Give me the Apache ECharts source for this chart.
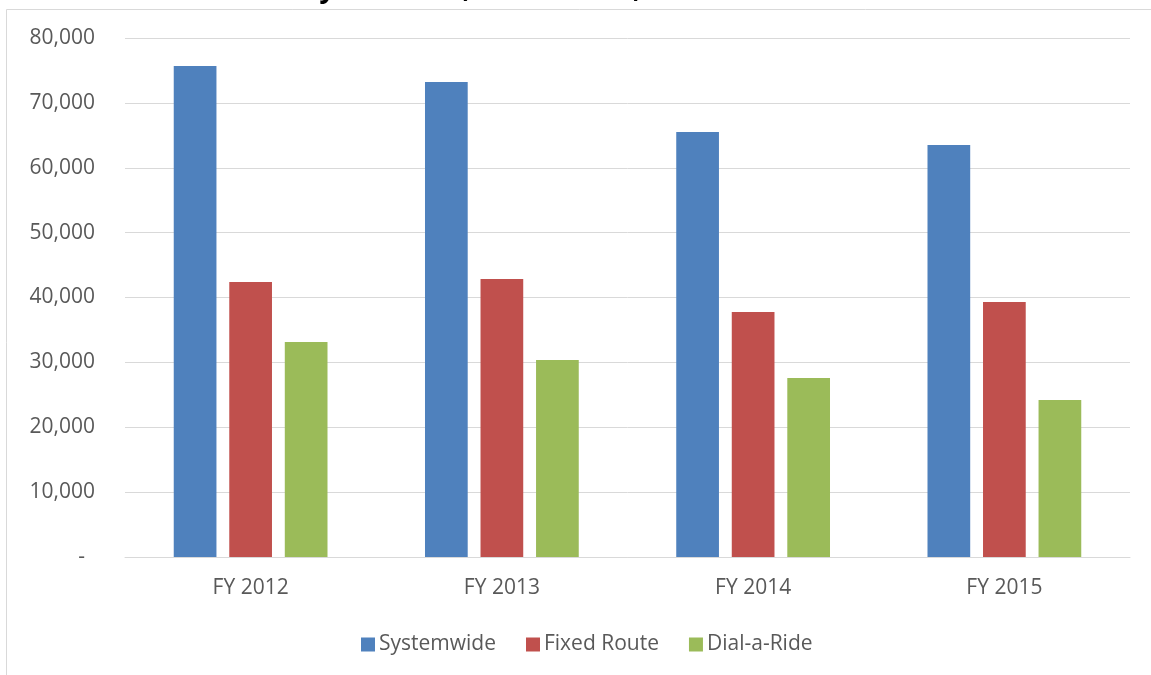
<!DOCTYPE html>
<html>
<head>
<meta charset="utf-8">
<script src="https://cdn.jsdelivr.net/npm/echarts@6/dist/echarts.min.js"></script>
<style>html,body{margin:0;padding:0;background:#fff;}#c{width:1151px;height:675px;}</style>
</head>
<body>
<div id="c"></div>
<script>
const titleText = 'Systemwide, Fixed Route, and Dial-a-Ride';
const categories = ['FY 2012', 'FY 2013', 'FY 2014', 'FY 2015'];
const seriesNames = ['Systemwide', 'Fixed Route', 'Dial-a-Ride'];
const systemwide = [75700, 73200, 65500, 63500];
const fixedRoute = [42400, 42850, 37750, 39300];
const dialARide = [33150, 30350, 27600, 24200];
const colors = ['#4F81BD', '#C0504D', '#9BBB59'];

const FONT = '"Open Sans", "Liberation Sans", sans-serif';
const FS = 21;
const chart = echarts.init(document.getElementById('c'), null, {renderer: 'canvas'});
const data = [systemwide, fixedRoute, dialARide];
chart.setOption({
  animation: false,
  backgroundColor: '#fff',
  color: colors,
  graphic: [
    {type: 'rect', shape: {x: 6.5, y: 9.5, width: 1200, height: 700}, style: {fill: 'none', stroke: '#d9d9d9', lineWidth: 1}, z: -1},
    {type: 'text', x: 580, y: 3.5, style: {text: titleText, font: 'italic bold 28px ' + FONT, fill: '#000', align: 'center', verticalAlign: 'bottom'}}
  ],
  grid: {left: 125, right: 21, top: 38, bottom: 118, containLabel: false},
  legend: {
    data: seriesNames, bottom: 15, left: 356, itemWidth: 14, itemHeight: 14, itemGap: 30,
    icon: 'rect',
    textStyle: {color: '#595959', fontSize: FS, fontFamily: FONT, padding: [0, 0, 0, -1]}
  },
  xAxis: {
    type: 'category', data: categories,
    axisLine: {lineStyle: {color: '#d9d9d9', width: 1}},
    axisTick: {show: false},
    axisLabel: {color: '#595959', fontSize: FS, fontFamily: FONT, margin: 21}
  },
  yAxis: {
    type: 'value', min: 0, max: 80000, interval: 10000,
    axisLine: {show: false}, axisTick: {show: false},
    splitLine: {lineStyle: {color: '#d9d9d9', width: 1}},
    axisLabel: {
      color: '#595959', fontSize: FS, fontFamily: FONT, margin: 30,
      formatter: v => v === 0 ? '{d|-}' : v.toLocaleString('en-US'),
      rich: {d: {color: '#595959', fontSize: FS, fontFamily: FONT, padding: [0, 10, 0, 0]}}
    }
  },
  series: seriesNames.map((n, i) => ({
    name: n, type: 'bar', data: data[i], barWidth: '17%', barGap: '30%',
    itemStyle: {color: colors[i]}
  }))
});
</script>
</body>
</html>
